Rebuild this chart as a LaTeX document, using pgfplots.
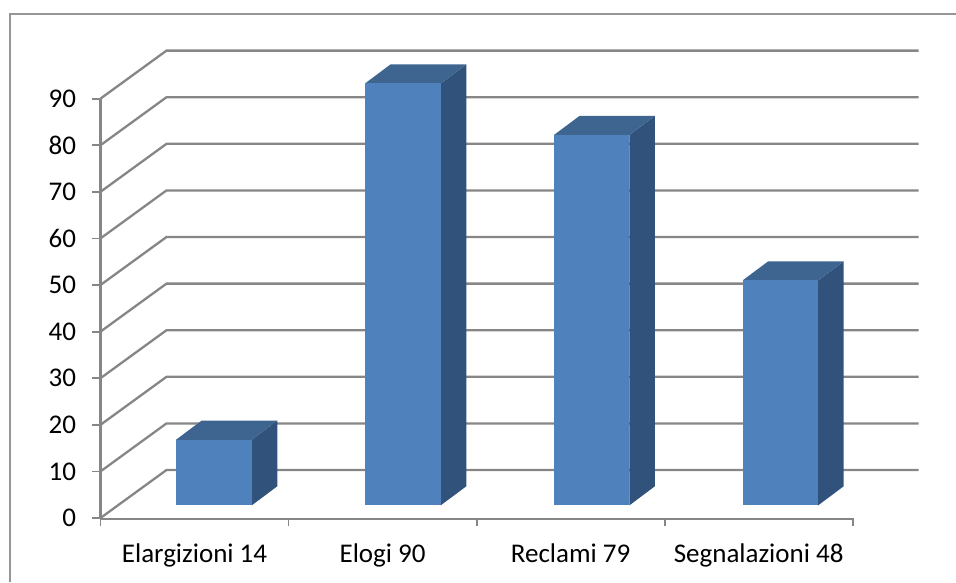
\documentclass[border=0pt]{standalone}
\usepackage{fontspec}
\setmainfont{Carlito}
\usepackage{pgfplots}
\pgfplotsset{compat=1.18}
\definecolor{barfront}{HTML}{4F81BD}
\definecolor{barside}{HTML}{31527A}
\definecolor{bartop}{HTML}{3E6490}
\definecolor{gridgray}{HTML}{868686}
\definecolor{framegray}{HTML}{969696}

% Wall offset of the pseudo-3D frame, in axis units
\newcommand\wallx{0.3510}
\newcommand\wally{10.30}
% Depth of a column, in axis units
\newcommand\depthx{0.1360}
\newcommand\depthy{4.08}

% One column: left edge, right edge, value
\newcommand\column[3]{%
  \pgfmathsetmacro\backl{#1+\depthx}%
  \pgfmathsetmacro\backr{#2+\depthx}%
  \pgfmathsetmacro\backv{#3+\depthy}%
  \pgfmathsetmacro\backz{\depthy}%
  \addplot[draw=none,fill=barside,yshift=12.6pt,yscale=1.006,forget plot]
    coordinates {(#2,0) (\backr,\backz) (\backr,\backv) (#2,#3)} --cycle;
  \addplot[draw=none,fill=bartop,yshift=12.6pt,yscale=1.006,forget plot]
    coordinates {(#1,#3) (#2,#3) (\backr,\backv) (\backl,\backv)} --cycle;
  \addplot[draw=none,fill=barfront,yshift=12.6pt,yscale=1.006,forget plot]
    coordinates {(#1,0) (#2,0) (#2,#3) (#1,#3)} --cycle;
}

\begin{document}
\begin{tikzpicture}[x=1pt,y=1pt]
  \useasboundingbox (-100.5,-64) rectangle (855.5,518);
  \draw[framegray,line width=2pt] (-90,-64) -- (-90,504) -- (855.5,504);
  \begin{axis}[
    at={(0,0)},anchor=south west,
    scale only axis,width=752.2pt,height=419.4pt,
    xmin=0,xmax=4,ymin=0,ymax=90,
    clip=false,
    axis x line*=bottom,axis y line*=left,
    axis line style={draw=gridgray,line width=2.3pt,-},
    x axis line style={yshift=-1pt},
    xtick={0,1,2,3,4},xticklabels={},
    ytick={0,10,...,90},
    tick style={draw=gridgray,line width=1.8pt},
    major tick length=8pt,
    tick align=outside,
    yticklabel style={font=\fontsize{27}{32}\selectfont,text=black,xshift=-13pt},
    /pgf/number format/assume math mode=true,
    extra description/.code={
      \node[font=\fontsize{27}{32}\selectfont,anchor=base] at (axis cs:0.5,0) [yshift=-44pt] {Elargizioni 14};
      \node[font=\fontsize{27}{32}\selectfont,anchor=base] at (axis cs:1.5,0) [yshift=-44pt] {Elogi 90};
      \node[font=\fontsize{27}{32}\selectfont,anchor=base] at (axis cs:2.5,0) [yshift=-44pt] {Reclami 79};
      \node[font=\fontsize{27}{32}\selectfont,anchor=base] at (axis cs:3.5,0) [yshift=-44pt] {Segnalazioni 48};
    },
  ]
    % Wall and floor grid lines
    \pgfplotsinvokeforeach{0,10,...,90}{
      \pgfmathsetmacro\wallv{#1+\wally}
      \pgfmathsetmacro\wallr{4+\wallx}
      \addplot[gridgray,line width=2.3pt,forget plot]
        coordinates {(0,#1) (\wallx,\wallv) (\wallr,\wallv)};
    }
    % Columns
    \column{0.4015}{0.8040}{14}
    \column{1.4065}{1.8090}{90}
    \column{2.4110}{2.8120}{79}
    \column{3.4150}{3.8160}{48}
  \end{axis}
\end{tikzpicture}
\end{document}
